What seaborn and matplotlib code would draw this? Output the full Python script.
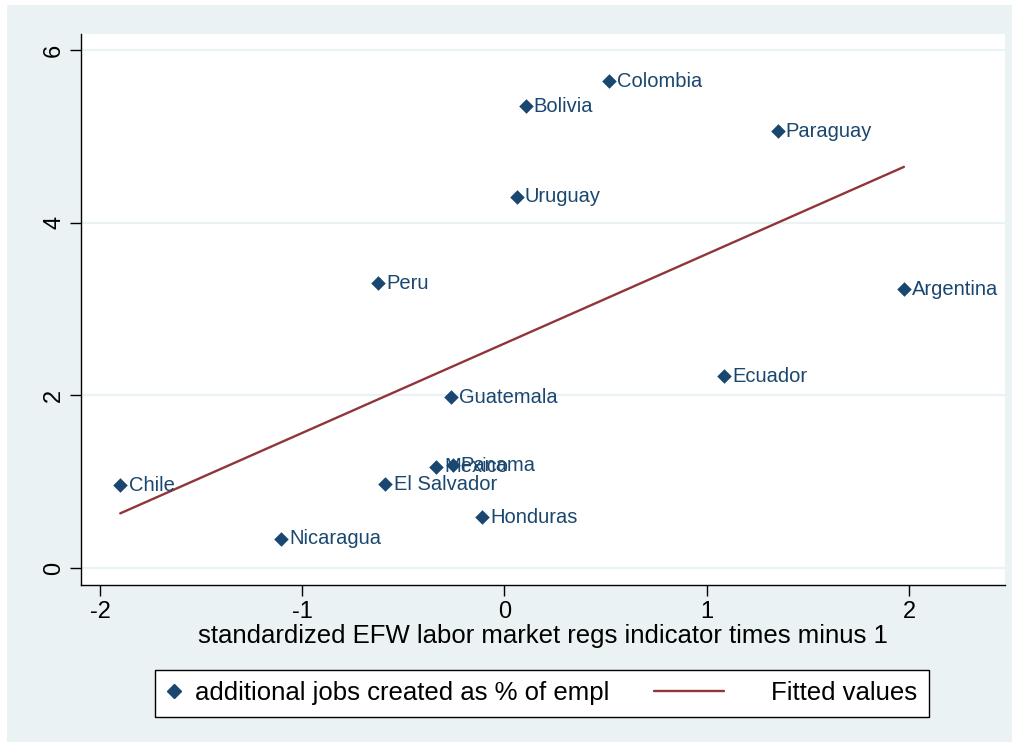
import numpy as np
import pandas as pd
import matplotlib
matplotlib.use('Agg')
import matplotlib.pyplot as plt
import seaborn as sns
from matplotlib.patches import Rectangle
from matplotlib.lines import Line2D
from matplotlib.legend_handler import HandlerLine2D

# Values
countries = ['Colombia', 'Bolivia', 'Paraguay', 'Uruguay', 'Peru', 'Argentina',
             'Ecuador', 'Guatemala', 'Mexico', 'Panama', 'El Salvador', 'Chile',
             'Honduras', 'Nicaragua']
efw_labor = [0.515, 0.104, 1.35, 0.06, -0.624, 1.975,
             1.084, -0.267, -0.337, -0.257, -0.589, -1.90,
             -0.109, -1.104]
jobs_pct = [5.64, 5.35, 5.06, 4.30, 3.30, 3.23,
            2.22, 1.98, 1.17, 1.19, 0.97, 0.96,
            0.59, 0.34]

x_ticks = [-2, -1, 0, 1, 2]
y_ticks = [0, 2, 4, 6]

df = pd.DataFrame({'country': countries, 'efw': efw_labor, 'jobs': jobs_pct})

navy = '#1a476f'
maroon = '#90353b'
bg = '#eaf2f3'


# legend line drawn to the left of its (short) handle box, like Stata's layout
class ShiftedLine(HandlerLine2D):
    def create_artists(self, legend, orig_handle, xdescent, ydescent,
                       width, height, fontsize, trans):
        y = (height - ydescent) / 2
        x0 = -xdescent - 3.45 * fontsize
        x1 = -xdescent - 0.75 * fontsize
        ln = Line2D([x0, x1], [y, y], color=orig_handle.get_color(),
                    lw=orig_handle.get_linewidth())
        ln.set_transform(trans)
        return [ln]


sns.set_style('white')
plt.rcParams['font.family'] = ['Liberation Sans', 'DejaVu Sans']
plt.rcParams['text.color'] = 'black'

fig = plt.figure(figsize=(10.19, 7.47), dpi=100)
fig.patch.set_facecolor('white')
fig.patches.append(Rectangle((7 / 1019, 5 / 747), 1 - 14 / 1019, 1 - 10 / 747,
                             transform=fig.transFigure, facecolor=bg,
                             edgecolor='none', zorder=-10))

ax = fig.add_axes([0.0795, 0.2169, 0.9068, 0.7376])
ax.set_facecolor('white')

for y in y_ticks:
    ax.axhline(y, color=bg, lw=1.6, zorder=0)

sns.scatterplot(data=df, x='efw', y='jobs', marker='D', s=55, color=navy,
                edgecolor=navy, linewidth=0, ax=ax, zorder=3)
sns.regplot(data=df, x='efw', y='jobs', scatter=False, ci=None, ax=ax,
            line_kws={'color': maroon, 'lw': 1.7, 'zorder': 2})

for c, xv, yv in zip(countries, efw_labor, jobs_pct):
    ax.annotate(c, (xv, yv), xytext=(6, 0), textcoords='offset points',
                va='center', ha='left', fontsize=14.5, color=navy)

ax.set_xlim(-2.094, 2.475)
ax.set_ylim(-0.197, 6.185)
ax.set_xticks(x_ticks)
ax.set_yticks(y_ticks)
ax.set_xticklabels([str(t) for t in x_ticks], fontsize=17)
ax.set_yticklabels([str(t) for t in y_ticks], fontsize=17, rotation=90, va='center')
ax.tick_params(axis='both', direction='out', length=8, width=1, color='black',
               labelcolor='black', bottom=True, left=True)
for s in ['top', 'right']:
    ax.spines[s].set_visible(False)
for s in ['left', 'bottom']:
    ax.spines[s].set_color('black')
    ax.spines[s].set_linewidth(1)

ax.set_xlabel('standardized EFW labor market regs indicator times minus 1', fontsize=18.5,
              labelpad=1, color='black')
ax.set_ylabel('')

mk = Line2D([], [], marker='D', color=navy, linestyle='none', markersize=7)
fit = Line2D([], [], color=maroon, lw=1.7)
leg = fig.legend([mk, fit], ['additional jobs created as % of empl', 'Fitted values'],
                 handler_map={fit: ShiftedLine()},
                 loc='center', bbox_to_anchor=(0.532, 0.072), ncol=2, fontsize=18.5,
                 frameon=True, fancybox=False, edgecolor='black', facecolor='white',
                 handlelength=0.6, handletextpad=0.5, columnspacing=5.2,
                 borderpad=0.45)
leg.get_frame().set_linewidth(1)
leg.get_frame().set_alpha(1)

fig.savefig('out.png', dpi=100)
